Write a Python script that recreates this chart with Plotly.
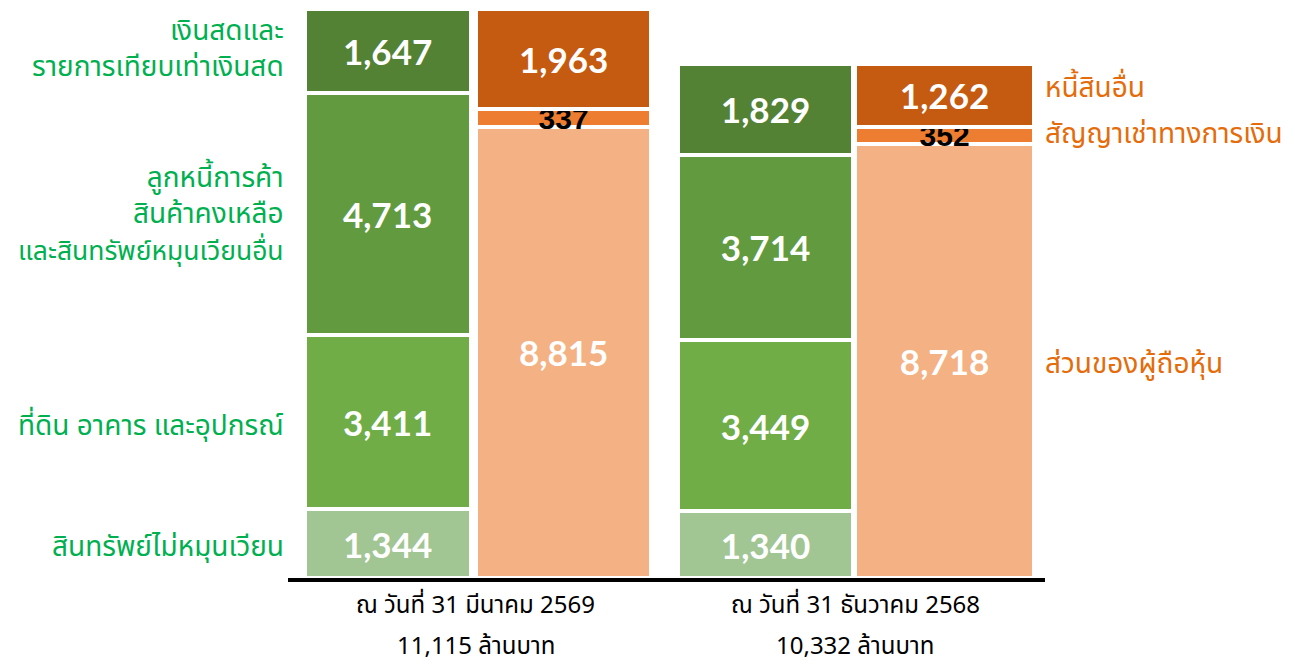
import plotly.graph_objects as go

# ---------------- data ----------------
groups = ["ณ วันที่ 31 มีนาคม 2569", "ณ วันที่ 31 ธันวาคม 2568"]
totals = ["11,115 ล้านบาท", "10,332 ล้านบาท"]

asset_names = ["สินทรัพย์ไม่หมุนเวียน", "ที่ดิน อาคาร และอุปกรณ์",
               "ลูกหนี้การค้า<br>สินค้าคงเหลือ<br><span style='font-size:26.5px'>และสินทรัพย์หมุนเวียนอื่น</span>",
               "เงินสดและ<br>รายการเทียบเท่าเงินสด"]
non_current = [1344, 1340]
ppe = [3411, 3449]
receivables = [4713, 3714]
cash = [1647, 1829]

liab_names = ["ส่วนของผู้ถือหุ้น", "สัญญาเช่าทางการเงิน", "หนี้สินอื่น"]
equity = [8815, 8718]
lease = [337, 352]
other_liab = [1963, 1262]

# ---------------- style ----------------
asset_colors = ["#A2C594", "#70AD47", "#629B3F", "#548235"]
liab_colors = ["#F4B183", "#ED7D31", "#C55A11"]
green_txt = "#00B050"
orange_txt = "#E46C0A"
num_font = "Lato"
thai_font = "Noto Sans Thai, Noto Sans, sans-serif"

asset_x = [0.0, 2.16]
liab_x = [1.006, 3.183]
asset_w = [0.949, 1.0]
liab_w = [1.0, 1.023]
yaxes = ["y", "y2"]

asset_series = [non_current, ppe, receivables, cash]
liab_series = [equity, lease, other_liab]
asset_label_shift = [-4, -5, -1, 2]
liab_label_shift = [-3, 1, 7]

fig = go.Figure()

for g in range(2):
    for i, s in enumerate(asset_series):
        fig.add_trace(go.Bar(
            x=[asset_x[g]], y=[s[g]], width=[asset_w[g]], yaxis=yaxes[g],
            marker=dict(color=asset_colors[i], line=dict(color="white", width=4)),
            text=[f"{s[g]:,}"], textposition="inside", insidetextanchor="middle",
            constraintext="none",
            textfont=dict(family=num_font, size=35, color="white", weight="bold"),
            showlegend=False, hoverinfo="skip"))
    for i, s in enumerate(liab_series):
        col = "black" if i == 1 else "white"
        size = 30 if i == 1 else 35
        fam = "Liberation Sans" if i == 1 else num_font
        fig.add_trace(go.Bar(
            x=[liab_x[g]], y=[s[g]], width=[liab_w[g]], yaxis=yaxes[g],
            marker=dict(color=liab_colors[i], line=dict(color="white", width=4)),
            text=[f"{s[g]:,}"], textposition="inside", insidetextanchor="middle",
            constraintext="none",
            textfont=dict(family=fam, size=size, color=col, weight="bold"),
            showlegend=False, hoverinfo="skip"))

annotations = []
# left labels aligned with first group's asset segments
cum = 0
for i, s in enumerate(asset_series):
    mid = cum + s[0] / 2
    cum += s[0]
    annotations.append(dict(x=-0.002, xref="paper", y=mid, yref="y",
                            text=asset_names[i], showarrow=False, xanchor="right",
                            yanchor="middle", align="right", yshift=asset_label_shift[i],
                            font=dict(family=thai_font, size=28, color=green_txt)))
# right labels aligned with second group's liability segments
cum = 0
for i, s in enumerate(liab_series):
    mid = cum + s[1] / 2
    cum += s[1]
    annotations.append(dict(x=1.0, xref="paper", y=mid, yref="y2",
                            text=liab_names[i], showarrow=False, xanchor="left",
                            yanchor="middle", align="left", yshift=liab_label_shift[i],
                            xshift=-2,
                            font=dict(family=thai_font, size=28, color=orange_txt)))
# bottom labels
for g in range(2):
    cx = (asset_x[g] + liab_x[g]) / 2
    annotations.append(dict(x=cx, xref="x", y=-0.049, yref="paper", text=groups[g],
                            showarrow=False, xanchor="center", yanchor="middle",
                            font=dict(family=thai_font, size=24, color="black")))
    annotations.append(dict(x=cx, xref="x", y=-0.122, yref="paper", text=totals[g],
                            showarrow=False, xanchor="center", yanchor="middle",
                            font=dict(family=thai_font, size=24, color="black")))

fig.update_layout(
    barmode="stack",
    width=1295, height=664,
    margin=dict(l=288, r=250, t=9, b=86),
    plot_bgcolor="white", paper_bgcolor="white",
    xaxis=dict(range=[-0.569, 3.757], showgrid=False, zeroline=False,
               showticklabels=False, showline=True, linecolor="black", linewidth=4,
               ticks=""),
    yaxis=dict(range=[0, 11115], showgrid=False, zeroline=False,
               showticklabels=False, showline=False),
    yaxis2=dict(range=[0, 11437], overlaying="y", showgrid=False, zeroline=False,
                showticklabels=False, showline=False),
    annotations=annotations,
    uniformtext=dict(mode=False),
)

fig.write_html("out.html", config={"displayModeBar": False},
               post_script="document.body.style.margin='0';document.body.style.overflow='hidden';")
